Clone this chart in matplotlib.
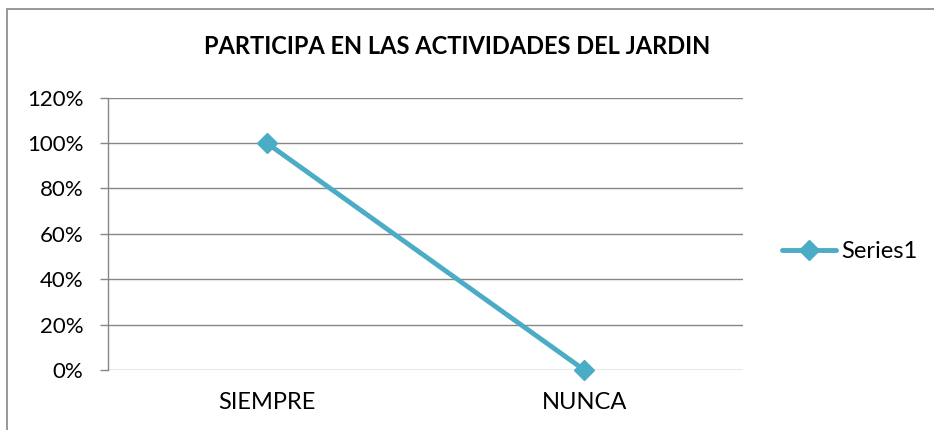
import matplotlib
matplotlib.use("Agg")
import matplotlib.pyplot as plt
from matplotlib.patches import Rectangle
from matplotlib.ticker import FuncFormatter

categories = ["SIEMPRE", "NUNCA"]
values = [1.00, 0.00]
series_name = "Series1"
title = "PARTICIPA EN LAS ACTIVIDADES DEL JARDIN"
yticks = [0, 0.2, 0.4, 0.6, 0.8, 1.0, 1.2]

plt.rcParams['font.family'] = ['Lato', 'DejaVu Sans']

W, H = 934, 430
fig = plt.figure(figsize=(W / 100, H / 100), dpi=100)
fig.patch.set_facecolor("white")

# chart border (top and left visible)
fig.patches.append(Rectangle((7 / W, -0.1), 1.2, 1 - 9 / H + 0.1, transform=fig.transFigure,
                             fill=False, edgecolor="#868686", linewidth=1.2))

ax = fig.add_axes([108 / W, 1 - 370 / H, (743 - 108) / W, (370 - 97.6) / H])
color = "#4BACC6"
x = list(range(len(categories)))
ax.plot(x, values, color=color, linewidth=3.5, marker="D", markersize=10,
        label=series_name, solid_capstyle="round", clip_on=False, zorder=5)

ax.set_xlim(-0.5, len(categories) - 0.5)
ax.set_ylim(0, 1.2)
ax.set_yticks(yticks)
ax.yaxis.set_major_formatter(FuncFormatter(lambda v, p: f"{v*100:.0f}%"))
ax.set_xticks(x)
ax.set_xticklabels(categories)
ax.grid(axis="y", color="#868686", linewidth=1)
ax.set_axisbelow(True)
for s in ["top", "right", "bottom"]:
    ax.spines[s].set_visible(False)
ax.spines["left"].set_color("#868686")
ax.spines["left"].set_linewidth(1)
ax.tick_params(axis="y", length=5.8, color="#868686", width=1, labelsize=16, pad=12)
ax.tick_params(axis="x", length=0, labelsize=17, pad=16)

fig.text(457 / W, 1 - 47 / H, title, ha="center", va="center", fontsize=17, fontweight="bold")

leg = ax.legend(loc="center left", bbox_to_anchor=(782 / W, 1 - 252 / H),
                bbox_transform=fig.transFigure, frameon=False, fontsize=17,
                handlelength=2.3, handletextpad=0.2, borderpad=0, borderaxespad=0)

fig.savefig("out.png", dpi=100)
